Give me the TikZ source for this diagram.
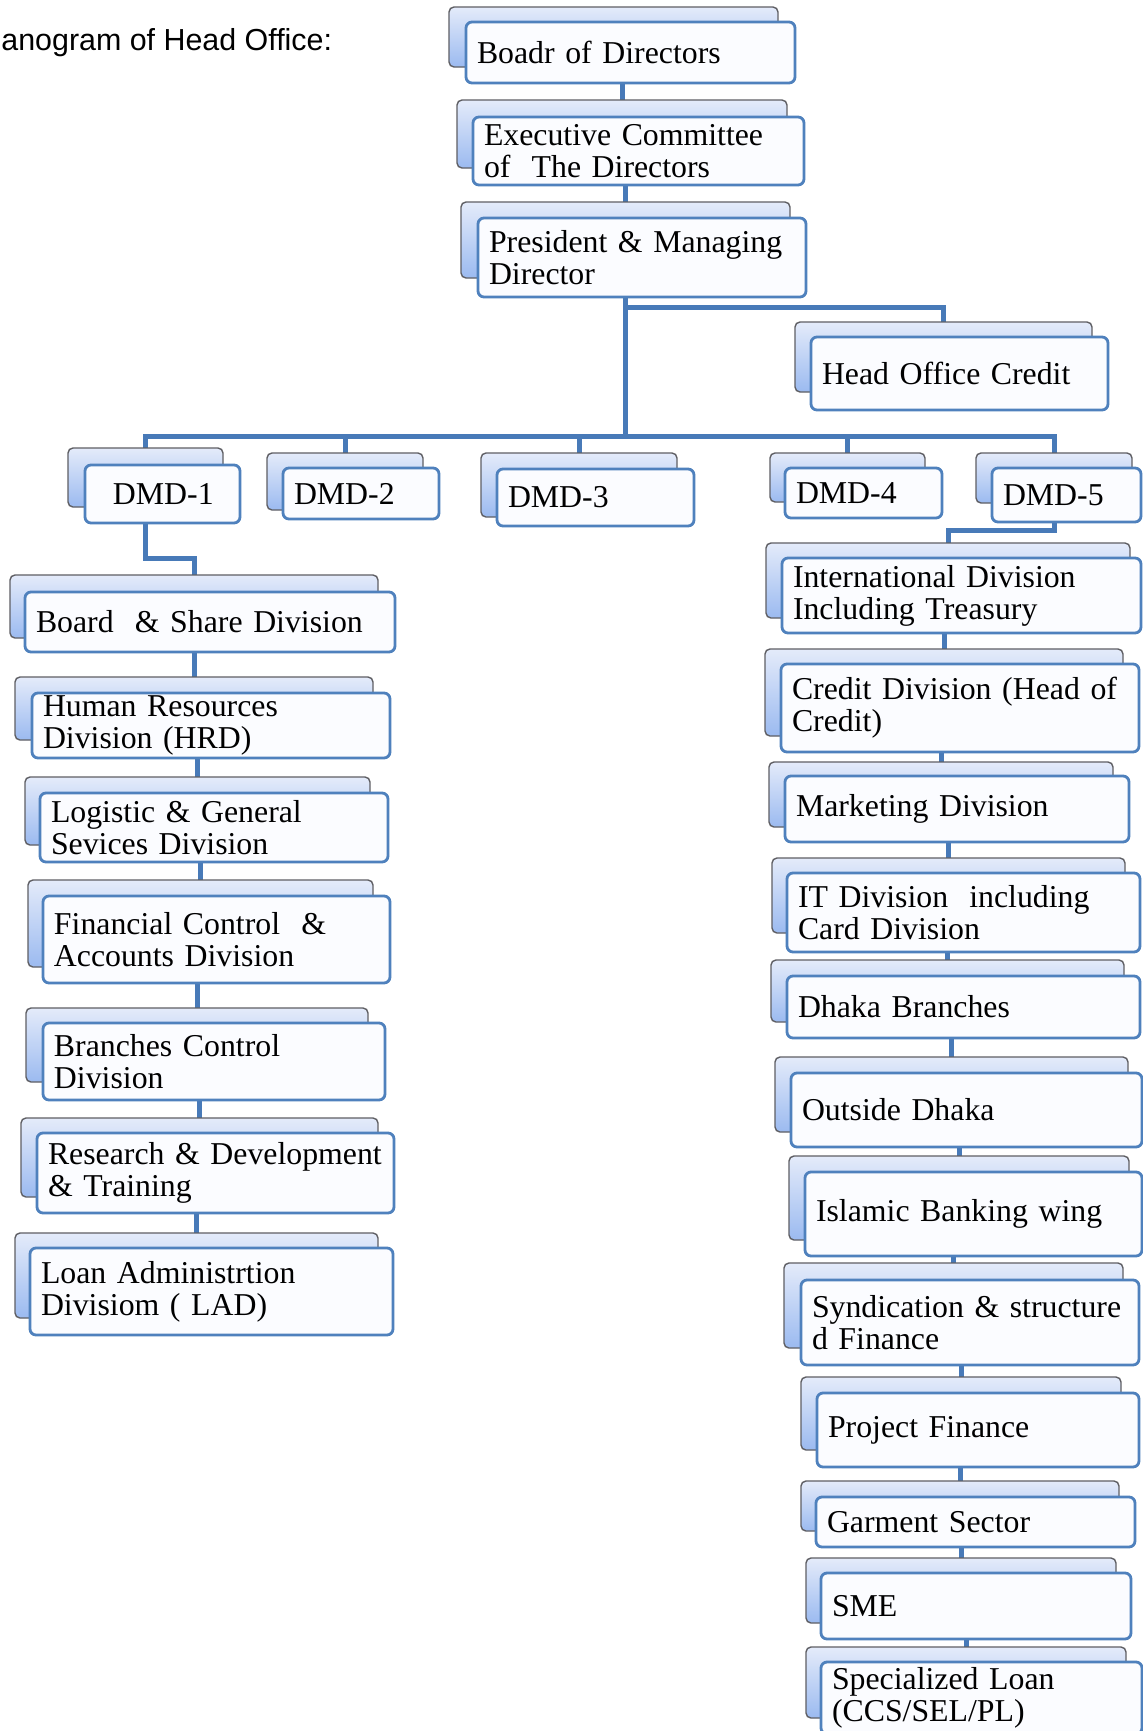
\documentclass[tikz,border=0pt]{standalone}
\usepackage{fontspec}
\setmainfont{Liberation Serif}
\newfontfamily\titlefamily{Liberation Sans}
\usetikzlibrary{backgrounds}
\definecolor{connblue}{RGB}{72,122,184}
\definecolor{frontblue}{RGB}{79,129,189}
\definecolor{backtop}{RGB}{228,235,250}
\definecolor{backbot}{RGB}{155,186,240}
\definecolor{backline}{RGB}{95,95,100}
\definecolor{frontfill}{RGB}{251,252,255}
\tikzset{
  backsty/.style={rectangle,rounded corners=2.5pt,draw=backline,line width=0.7pt,
    top color=backtop,bottom color=backbot,inner sep=0pt,outer sep=0pt},
  frontsty/.style={rectangle,rounded corners=3pt,draw=frontblue,line width=1.4pt,
    fill=frontfill,inner xsep=5.5pt,inner ysep=0pt,outer sep=0pt,align=left,
    font=\fontsize{15.9pt}{16pt}\selectfont},
  conn/.style={draw=connblue,line width=2.5pt}
}
\newcommand\bbox[5]{%
  \pgfmathsetmacro\bw{(#4-#2)*0.5}\pgfmathsetmacro\bh{(#5-#3)*0.5}%
  \node[backsty,minimum width=\bw pt,minimum height=\bh pt,anchor=north west] (#1) at (#2,#3) {};}
\newcommand\frbox[6]{%
  \pgfmathsetmacro\bw{(#4-#2)*0.5}\pgfmathsetmacro\bh{(#5-#3)*0.5}\pgfmathsetmacro\tw{(#4-#2-22)*0.5}%
  \node[frontsty,minimum width=\bw pt,minimum height=\bh pt,text width=\tw pt,anchor=north west] (#1) at (#2,#3) {#6};}
\newcommand\chainlink[2]{\draw[conn] (#2b.north) -- (#2b.north |- #1.south);}
\begin{document}
\begin{tikzpicture}[x=0.5pt,y=-0.5pt]
\useasboundingbox (0,0) rectangle (1143,1731);
\clip (0,0) rectangle (1143,1731);

\node[font=\titlefamily\fontsize{15.2pt}{18pt}\selectfont,anchor=base west,inner sep=0pt] (title) at (1,50) {anogram of Head Office:};

% top chain
\bbox{bodb}{449}{7}{778}{67}
\frbox{bod}{466}{22}{795}{83}{Boadr of Directors}
\bbox{execb}{457}{100}{787}{168}
\frbox{exec}{473}{117}{804}{185}{Executive Committee\\of\ \ The Directors}
\bbox{presb}{461}{202}{790}{278}
\frbox{pres}{478}{218}{806}{297}{President \& Managing\\Director}
\bbox{hocb}{795}{322}{1092}{392}
\frbox{hoc}{811}{337}{1108}{410}{Head Office Credit}

% DMDs
\bbox{dmd1b}{68}{448}{223}{507}
\frbox{dmd1}{85}{465}{240}{523}{\hspace*{8.5pt}DMD-1}
\bbox{dmd2b}{267}{453}{423}{510}
\frbox{dmd2}{283}{468}{439}{519}{DMD-2}
\bbox{dmd3b}{481}{453}{677}{517}
\frbox{dmd3}{497}{469}{694}{526}{DMD-3}
\bbox{dmd4b}{770}{453}{925}{502}
\frbox{dmd4}{785}{468}{942}{518}{DMD-4}
\bbox{dmd5b}{976}{453}{1132}{503}
\frbox{dmd5}{992}{468}{1141}{522}{DMD-5}

% left column
\bbox{boardb}{10}{575}{378}{638}
\frbox{board}{25}{592}{395}{652}{Board\ \ \& Share Division}
\bbox{hrdb}{15}{677}{373}{740}
\frbox{hrd}{32}{693}{390}{758}{Human Resources\\Division (HRD)}
\bbox{logb}{25}{777}{370}{845}
\frbox{log}{40}{793}{388}{862}{Logistic \& General\\Sevices Division}
\bbox{finb}{28}{880}{373}{967}
\frbox{fin}{43}{896}{390}{983}{Financial Control\ \ \&\\Accounts Division}
\bbox{bcdb}{26}{1008}{368}{1082}
\frbox{bcd}{43}{1023}{385}{1100}{Branches Control\\Division}
\bbox{rdtb}{21}{1118}{378}{1197}
\frbox{rdt}{37}{1133}{394}{1213}{Research \& Development\\\& Training}
\bbox{ladb}{15}{1233}{378}{1318}
\frbox{lad}{30}{1248}{393}{1335}{Loan Administrtion\\Divisiom ( LAD)}

% right column
\bbox{intb}{766}{543}{1130}{618}
\frbox{int}{782}{558}{1141}{633}{International Division\\Including Treasury}
\bbox{creditb}{765}{649}{1123}{736}
\frbox{credit}{781}{664}{1139}{752}{Credit Division (Head of\\Credit)}
\bbox{mktb}{769}{762}{1113}{827}
\frbox{mkt}{785}{776}{1129}{842}{Marketing Division}
\bbox{itb}{772}{858}{1125}{933}
\frbox{it}{787}{873}{1140}{952}{IT Division\ \ including\\Card Division}
\bbox{dhakab}{771}{960}{1124}{1022}
\frbox{dhaka}{787}{976}{1140}{1038}{Dhaka Branches}
\bbox{outsideb}{775}{1057}{1128}{1132}
\frbox{outside}{791}{1073}{1142}{1147}{Outside Dhaka}
\bbox{islamicb}{789}{1156}{1129}{1240}
\frbox{islamic}{805}{1172}{1142}{1256}{Islamic Banking wing}
\bbox{syndb}{784}{1263}{1123}{1348}
\frbox{synd}{801}{1280}{1139}{1365}{Syndication \& structure\\d Finance}
\bbox{projb}{801}{1377}{1121}{1450}
\frbox{proj}{817}{1393}{1139}{1467}{Project Finance}
\bbox{garmb}{801}{1481}{1119}{1531}
\frbox{garm}{816}{1497}{1135}{1547}{Garment Sector}
\bbox{smeb}{806}{1558}{1116}{1623}
\frbox{sme}{821}{1573}{1131}{1639}{SME}
\bbox{specb}{806}{1647}{1126}{1718}
\frbox{spec}{821}{1662}{1142}{1734}{Specialized Loan\\(CCS/SEL/PL)}

\coordinate (hocj) at (625,307);
\coordinate (bus) at (625,436);
\coordinate (jl) at (0,558);
\coordinate (jr) at (0,530);

\begin{pgfonlayer}{background}
\fill[white] (0,0) rectangle (1143,1731);
\chainlink{bod}{exec}
\chainlink{exec}{pres}
\draw[conn] (presb.north |- pres.south) -- (presb.north |- bus);
\draw[conn] (presb.north |- hocj) -| (hocb.north);
\draw[conn] (dmd1b.north) |- (dmd5b.north |- bus) -- (dmd5b.north);
\draw[conn] (dmd2b.north) -- (dmd2b.north |- bus);
\draw[conn] (dmd3b.north) -- (dmd3b.north |- bus);
\draw[conn] (dmd4b.north) -- (dmd4b.north |- bus);
\draw[conn] (dmd1b.north |- dmd1.south) -- (dmd1b.north |- jl) -| (boardb.north);
\draw[conn] (dmd5b.north |- dmd5.south) -- (dmd5b.north |- jr) -| (intb.north);
\chainlink{board}{hrd}
\chainlink{hrd}{log}
\chainlink{log}{fin}
\chainlink{fin}{bcd}
\chainlink{bcd}{rdt}
\chainlink{rdt}{lad}
\chainlink{int}{credit}
\chainlink{credit}{mkt}
\chainlink{mkt}{it}
\chainlink{it}{dhaka}
\chainlink{dhaka}{outside}
\chainlink{outside}{islamic}
\chainlink{islamic}{synd}
\chainlink{synd}{proj}
\chainlink{proj}{garm}
\chainlink{garm}{sme}
\chainlink{sme}{spec}
\end{pgfonlayer}
\end{tikzpicture}
\end{document}
